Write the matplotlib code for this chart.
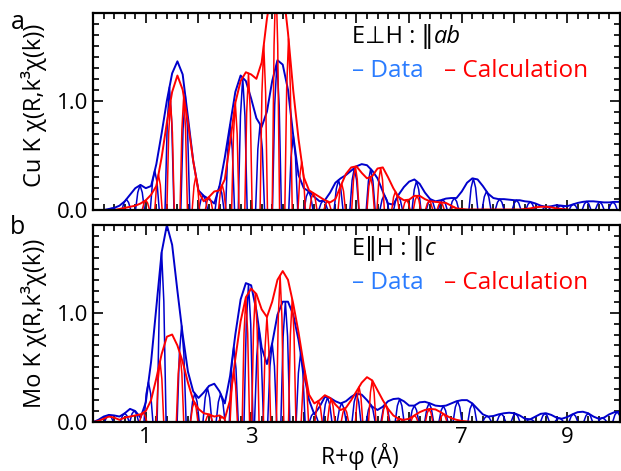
import numpy as np
import matplotlib.pyplot as plt
from matplotlib.ticker import MultipleLocator, FixedLocator

plt.rcParams['font.family'] = ['Open Sans', 'DejaVu Sans']

# readings every 0.1 A
R = np.round(np.arange(0, 10.01, 0.1), 1)

cu_data = [0.00, 0.00, 0.00, 0.01, 0.02, 0.04, 0.08, 0.14, 0.20, 0.23,
           0.20, 0.22, 0.42, 0.70, 1.00, 1.25, 1.36, 1.24, 0.85, 0.45,
           0.18, 0.13, 0.10, 0.06, 0.22, 0.48, 0.78, 1.08, 1.23, 1.18,
           1.02, 0.84, 0.76, 0.90, 1.18, 1.37, 1.33, 1.10, 0.68, 0.32,
           0.20, 0.17, 0.12, 0.08, 0.09, 0.16, 0.25, 0.29, 0.32, 0.36,
           0.40, 0.42, 0.41, 0.36, 0.29, 0.17, 0.06, 0.05, 0.14, 0.21,
           0.26, 0.28, 0.24, 0.16, 0.10, 0.08, 0.09, 0.105, 0.11, 0.11,
           0.17, 0.25, 0.29, 0.28, 0.22, 0.15, 0.11, 0.10, 0.10, 0.095,
           0.09, 0.09, 0.08, 0.075, 0.06, 0.04, 0.03, 0.035, 0.045, 0.04,
           0.035, 0.05, 0.065, 0.075, 0.08, 0.08, 0.075, 0.07, 0.07, 0.075,
           0.075]
cu_calc = [0.00, 0.00, 0.00, 0.00, 0.00, 0.01, 0.02, 0.03, 0.04, 0.06,
           0.09, 0.14, 0.22, 0.48, 0.80, 1.08, 1.23, 1.10, 0.80, 0.45,
           0.17, 0.08, 0.12, 0.17, 0.18, 0.28, 0.62, 0.98, 1.18, 1.26,
           1.24, 1.20, 1.35, 1.75, 2.05, 2.15, 2.05, 1.62, 1.09, 0.65,
           0.30, 0.18, 0.15, 0.12, 0.09, 0.07, 0.10, 0.22, 0.33, 0.39,
           0.40, 0.34, 0.29, 0.31, 0.38, 0.39, 0.30, 0.20, 0.12, 0.09,
           0.095, 0.13, 0.13, 0.10, 0.08, 0.075, 0.07, 0.065, 0.04, 0.015,
           0.01, 0.005, 0.005, 0.005, 0.005, 0.005, 0.005, 0.005, 0.005, 0.005,
           0.005, 0.005, 0.01, 0.015, 0.025, 0.03, 0.03, 0.025, 0.015, 0.01,
           0.005, 0.0, 0.0, 0.0, 0.0, 0.0, 0.0, 0.0, 0.0, 0.0,
           0.0]
mo_data = [0.00, 0.02, 0.05, 0.065, 0.06, 0.05, 0.08, 0.12, 0.10, 0.04,
           0.18, 0.55, 1.05, 1.55, 1.80, 1.62, 1.20, 0.80, 0.46, 0.28,
           0.22, 0.27, 0.33, 0.35, 0.28, 0.17, 0.42, 0.80, 1.12, 1.27,
           1.25, 1.02, 0.68, 0.53, 0.72, 0.98, 1.10, 1.10, 0.98, 0.75,
           0.45, 0.20, 0.07, 0.14, 0.23, 0.22, 0.19, 0.17, 0.19, 0.23,
           0.26, 0.25, 0.20, 0.14, 0.11, 0.14, 0.19, 0.21, 0.215, 0.19,
           0.15, 0.15, 0.18, 0.185, 0.17, 0.15, 0.145, 0.15, 0.17, 0.19,
           0.20, 0.20, 0.17, 0.12, 0.07, 0.05, 0.055, 0.07, 0.08, 0.085,
           0.08, 0.06, 0.03, 0.025, 0.05, 0.075, 0.08, 0.065, 0.04, 0.03,
           0.045, 0.07, 0.09, 0.094, 0.08, 0.05, 0.03, 0.04, 0.07, 0.09,
           0.094]
mo_calc = [0.00, 0.01, 0.03, 0.05, 0.04, 0.02, 0.04, 0.05, 0.06, 0.07,
           0.10, 0.20, 0.40, 0.62, 0.78, 0.80, 0.70, 0.55, 0.36, 0.20,
           0.12, 0.08, 0.07, 0.05, 0.06, 0.03, 0.20, 0.58, 0.92, 1.14,
           1.22, 1.17, 1.03, 0.96, 1.10, 1.30, 1.38, 1.30, 1.08, 0.82,
           0.52, 0.25, 0.17, 0.20, 0.245, 0.22, 0.16, 0.11, 0.13, 0.20,
           0.28, 0.36, 0.41, 0.38, 0.29, 0.20, 0.12, 0.06, 0.03, 0.02,
           0.03, 0.06, 0.09, 0.11, 0.12, 0.115, 0.09, 0.06, 0.035, 0.02,
           0.01, 0.005, 0.0, 0.0, 0.0, 0.0, 0.0, 0.0, 0.0, 0.0,
           0.0, 0.0, 0.0, 0.0, 0.0, 0.0, 0.0, 0.0, 0.0, 0.0,
           0.0, 0.0, 0.0, 0.0, 0.0, 0.0, 0.0, 0.0, 0.0, 0.0,
           0.0]

# positions where the real part touches the envelope
cu_data_lobes = [0.36, 0.63, 0.89, 1.17, 1.45, 1.75, 2.09, 2.40, 2.60, 2.84,
                 3.17, 3.49, 3.80, 4.09, 4.37, 4.66, 4.96, 5.27, 5.53, 5.79,
                 6.14, 6.41, 6.64, 6.86, 7.22, 7.47, 7.72, 8.04, 8.30, 8.61,
                 8.88, 9.12, 9.37, 9.62, 9.87]
cu_calc_lobes = [1.00, 1.24, 1.47, 1.72, 1.95, 2.20, 2.45, 2.70, 2.95, 3.24,
                 3.47, 3.71, 3.96, 4.18, 4.45, 4.72, 4.98, 5.27, 5.46, 5.74,
                 5.95, 6.15, 6.38, 6.60, 6.85]
mo_data_lobes = [0.30, 0.60, 0.78, 1.05, 1.30, 1.68, 1.93, 2.17, 2.42, 2.67,
                 2.95, 3.15, 3.40, 3.65, 3.94, 4.19, 4.45, 4.72, 5.00, 5.27,
                 5.55, 5.82, 6.10, 6.38, 6.65, 6.92, 7.20, 7.48, 7.75, 8.02,
                 8.30, 8.58, 8.85, 9.12, 9.40, 9.67, 9.95]
mo_calc_lobes = [0.95, 1.27, 1.65, 1.92, 2.20, 2.45, 2.67, 2.90, 3.08, 3.30,
                 3.55, 3.78, 4.02, 4.28, 4.52, 4.78, 5.05, 5.30, 5.55, 5.82,
                 6.10, 6.38, 6.65]

BLUE = '#0000cc'
RED = '#ff0000'


def draw_lobes(ax, centers, env, color, w):
    h = np.interp(centers, R, env)
    shape = np.array([0, 0.71, 1, 0.71, 0])
    offs = np.array([-w, -w / 2, 0, w / 2, w])
    for c, hh in zip(centers, h):
        ax.plot(c + offs, hh * shape, color=color, lw=1.1)


def style_axis(ax):
    ax.set_xlim(0, 10)
    ax.set_ylim(0, 1.8)
    ax.xaxis.set_major_locator(MultipleLocator(1))
    ax.xaxis.set_minor_locator(MultipleLocator(0.2))
    ax.yaxis.set_major_locator(FixedLocator([0, 1]))
    ax.yaxis.set_minor_locator(MultipleLocator(0.1))
    ax.tick_params(which='both', direction='in', top=True, right=True,
                   width=1.2, labelsize=16)
    ax.tick_params(which='major', length=7)
    ax.tick_params(which='minor', length=4)
    for s in ax.spines.values():
        s.set_linewidth(1.6)
    ax.set_yticklabels(['0.0', '1.0'])


fig = plt.figure(figsize=(6.21, 4.71), dpi=100)
ax1 = fig.add_axes([0.150, 0.554, 0.848, 0.418])
ax2 = fig.add_axes([0.150, 0.104, 0.848, 0.418])

for ax, data, calc, dl, cl in [(ax1, cu_data, cu_calc, cu_data_lobes, cu_calc_lobes),
                               (ax2, mo_data, mo_calc, mo_data_lobes, mo_calc_lobes)]:
    ax.plot(R, data, color=BLUE, lw=1.4)
    draw_lobes(ax, dl, data, BLUE, 0.085)
    ax.plot(R, calc, color=RED, lw=1.4)
    draw_lobes(ax, cl, calc, RED, 0.07)
    style_axis(ax)

ax1.set_xticklabels([])
ax2.set_xticks(np.arange(0, 10.1, 1))
ax2.set_xticklabels(['', '1', '', '3', '', '', '', '7', '', '9', ''])

ax1.set_ylabel('Cu K χ(R,k³χ(k))', fontsize=17)
ax2.set_ylabel('Mo K χ(R,k³χ(k))', fontsize=17)
ax1.yaxis.set_label_coords(-0.087, 0.53)
ax2.yaxis.set_label_coords(-0.087, 0.50)
ax2.set_xlabel('R+φ (Å)', fontsize=16.5)
ax2.xaxis.set_label_coords(0.507, -0.105)

fig.text(0.028, 0.952, 'a', fontsize=18, ha='center', va='center')
fig.text(0.028, 0.518, 'b', fontsize=18, ha='center', va='center')

for ax, head, tail in [(ax1, 'E⊥H : ‖', 'ab'), (ax2, 'E‖H : ‖', 'c')]:
    t = ax.text(0.492, 0.848, head, transform=ax.transAxes, fontsize=17,
                va='baseline')
    ax.annotate(tail, xy=(1, 0), xycoords=t, va='bottom', fontsize=17,
                style='italic')
    ax.text(0.492, 0.674, '– Data', transform=ax.transAxes, fontsize=17.5,
            color='#2a7cff', va='baseline')
    ax.text(0.666, 0.674, '– Calculation', transform=ax.transAxes,
            fontsize=17.5, color=RED, va='baseline')

plt.savefig('out.png', dpi=100)
